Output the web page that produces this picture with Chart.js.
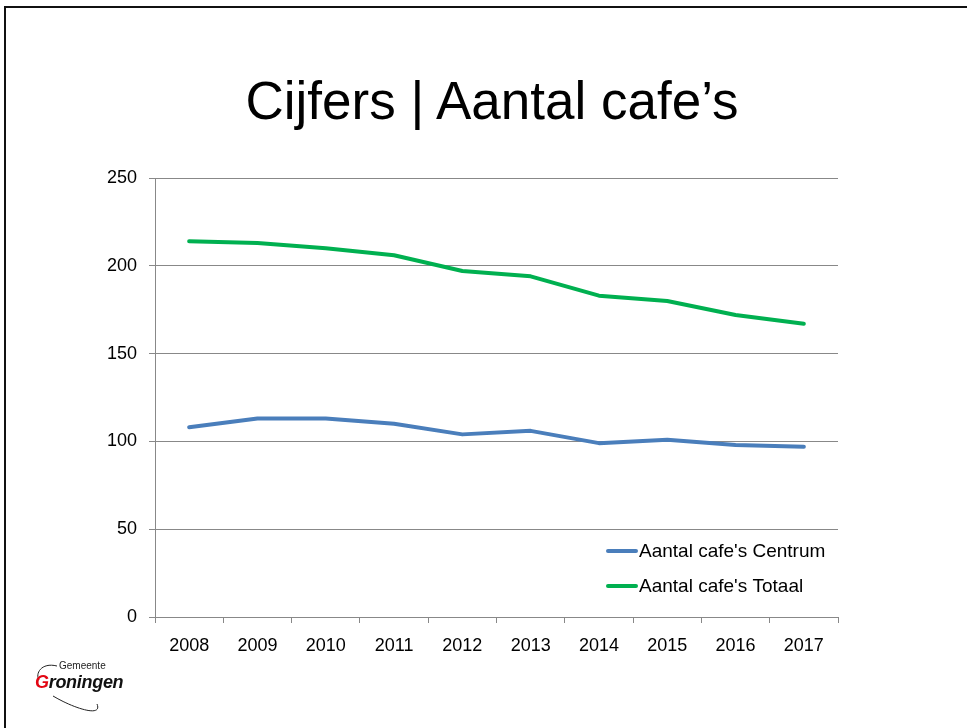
<!DOCTYPE html>
<html>
<head>
<meta charset="utf-8">
<script src="https://cdn.jsdelivr.net/npm/chart.js@4/dist/chart.umd.min.js"></script>
<style>
  html, body { margin: 0; padding: 0; background: #fff; }
  #slide { position: relative; width: 967px; height: 728px; overflow: hidden; }
  #frame { position: absolute; left: 4px; top: 6px; width: 1000px; height: 800px;
           border-left: 2px solid #111; border-top: 2px solid #111; }
  #title { position: absolute; left: 0; top: 74px; width: 984px; text-align: center;
           font-family: "Liberation Sans", Arial, sans-serif; font-size: 53px; line-height: 1; color: #000; }
  #chart { position: absolute; left: 0; top: 0; }
  #logo { position: absolute; left: 33px; top: 656px; width: 110px; height: 60px;
          font-family: "Liberation Sans", Arial, sans-serif; font-style: italic; }
  #logo .gem { position: absolute; left: 26px; top: 4px; font-size: 10px; font-style: normal; color: #222; }
  #logo .gro { position: absolute; left: 2px; top: 16px; font-size: 18px; font-weight: bold; color: #111; letter-spacing: -0.3px; }
  #logo .gro span { color: #e30613; }
  #logo svg { position: absolute; left: 0; top: 0; }
</style>
</head>
<body>
<div id="slide">
  <div id="frame"></div>
  <div id="title">Cijfers | Aantal cafe’s</div>
  <canvas id="chart" width="967" height="728"></canvas>
  <div id="logo">
    <svg width="110" height="60">
      <path d="M24 10 C 8 6, 2 18, 6 24" fill="none" stroke="#222" stroke-width="1"/>
      <path d="M20 40 C 40 52, 70 62, 64 48" fill="none" stroke="#222" stroke-width="1"/>
    </svg>
    <div class="gem">Gemeente</div>
    <div class="gro"><span>G</span>roningen</div>
  </div>
</div>
<script>
// values
const years = ['2008', '2009', '2010', '2011', '2012', '2013', '2014', '2015', '2016', '2017'];
const centrum = [108, 113, 113, 110, 104, 106, 99, 101, 98, 97];
const totaal = [214, 213, 210, 206, 197, 194, 183, 180, 172, 167];
const seriesNames = ["Aantal cafe's Centrum", "Aantal cafe's Totaal"];
const seriesColors = ['#4a7ebb', '#00b050'];

const FONT = '"Liberation Sans", Arial, sans-serif';

// legend sits inside the plot, lower right (Excel style)
const insideLegend = {
    id: 'insideLegend',
    afterDraw(chart) {
        const ctx = chart.ctx;
        const area = chart.chartArea;
        const x0 = area.right - 230;
        const rows = [area.bottom - 66, area.bottom - 31];
        ctx.save();
        ctx.font = '19px ' + FONT;
        ctx.textBaseline = 'middle';
        chart.data.datasets.forEach((ds, i) => {
            const y = rows[i];
            ctx.strokeStyle = ds.borderColor;
            ctx.lineWidth = 4;
            ctx.lineCap = 'round';
            ctx.beginPath();
            ctx.moveTo(x0, y);
            ctx.lineTo(x0 + 28, y);
            ctx.stroke();
            ctx.fillStyle = '#000';
            ctx.fillText(ds.label, x0 + 31, y + 1);
        });
        ctx.restore();
    }
};

new Chart(document.getElementById('chart').getContext('2d'), {
    type: 'line',
    data: {
        labels: years,
        datasets: [
            { label: seriesNames[0], data: centrum, borderColor: seriesColors[0], backgroundColor: seriesColors[0] },
            { label: seriesNames[1], data: totaal, borderColor: seriesColors[1], backgroundColor: seriesColors[1] }
        ]
    },
    options: {
        responsive: false,
        animation: false,
        layout: { padding: { top: 178, right: 129, bottom: 71, left: 0 } },
        elements: {
            line: { borderWidth: 4, tension: 0, borderCapStyle: 'round', borderJoinStyle: 'round' },
            point: { radius: 0 }
        },
        plugins: {
            legend: { display: false },
            tooltip: { enabled: false }
        },
        scales: {
            x: {
                offset: true,
                grid: { offset: true, drawOnChartArea: false, tickLength: 6, color: '#888' },
                border: { color: '#888', width: 1 },
                ticks: { color: '#000', font: { family: FONT, size: 18 }, padding: 12, maxRotation: 0 },
                afterFit: (scale) => { scale.height = 40; }
            },
            y: {
                min: 0,
                max: 250,
                ticks: { stepSize: 50, color: '#000', font: { family: FONT, size: 18 }, padding: 12 },
                grid: { color: '#888', tickLength: 6, lineWidth: 1 },
                border: { color: '#888', width: 1 },
                afterFit: (scale) => { scale.width = 155; }
            }
        }
    },
    plugins: [insideLegend]
});
</script>
</body>
</html>
